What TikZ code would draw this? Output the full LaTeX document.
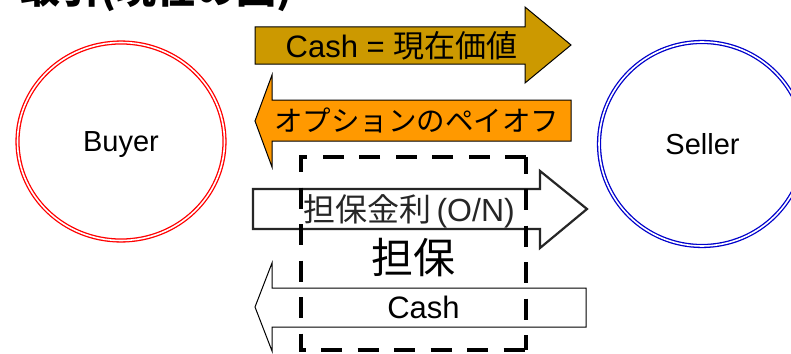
\documentclass[tikz,border=0pt]{standalone}
\usepackage{fontspec}
\setmainfont{Liberation Sans}
\newfontfamily\cjk{Noto Sans CJK JP}
\usetikzlibrary{shapes.geometric}
\definecolor{goldfill}{RGB}{204,153,0}
\definecolor{orangefill}{RGB}{255,153,0}
\definecolor{sellerblue}{RGB}{0,0,204}
\begin{document}
\begin{tikzpicture}[x=1pt,y=-1pt,
  party/.style={ellipse, draw, line width=1.3pt, double=white, double distance=1.6pt, inner sep=0pt},
  blockarrow/.style={draw=black, line width=1pt, line join=miter},
  lbl/.style={inner sep=0pt, text=black},
  collat/.style={draw=black, line width=4.5pt, dash pattern=on 21pt off 15.5pt},
]
\useasboundingbox (0,0) rectangle (791,353);
\fill[white] (0,0) rectangle (791,353);

% title (cut off at the top edge)
\node[lbl, anchor=base west, font=\cjk\bfseries\fontsize{40}{48}\selectfont] (title) at (20,4) {取引(現在の図)};

% parties
\node[party, draw=red, minimum width=207pt, minimum height=198pt] (buyer) at (121,141.5) {};
\node[party, draw=sellerblue, minimum width=206pt, minimum height=204pt] (seller) at (702,144) {};
\node[lbl, anchor=base, font=\fontsize{29}{35}\selectfont] (buyerlbl) at (121,151) {Buyer};
\node[lbl, anchor=base, font=\fontsize{29}{35}\selectfont] (sellerlbl) at (702.5,154.5) {Seller};

% block arrows
\draw[blockarrow, fill=goldfill] (255,27) -- (525,27) -- (525,7) -- (571,45) -- (525,83) -- (525,64) -- (255,64) -- cycle;
\draw[blockarrow, fill=orangefill] (571,100) -- (272,100) -- (272,75) -- (255,121) -- (272,167) -- (272,141) -- (571,141) -- cycle;
\draw[blockarrow, draw=black!85, line width=2.2pt, fill=white] (253,189) -- (540,189) -- (540,171) -- (587,209) -- (540,248) -- (540,229) -- (253,229) -- cycle;
\draw[blockarrow, fill=white] (586,288) -- (272,288) -- (272,263) -- (255,307) -- (272,351) -- (272,327) -- (586,327) -- cycle;

% collateral box
\draw[collat] (526,157) -- (301,157) -- (301,350) -- (526,350);
\draw[collat, dash phase=4.5pt] (526,157) -- (526,350);

% labels
\node[lbl, anchor=base, font=\fontsize{31}{37}\selectfont] (pv) at (401.5,57) {Cash = {\cjk 現在価値}};
\node[lbl, font=\cjk\fontsize{28.5}{34}\selectfont] (payoff) at (416.5,120.5) {オプションのペイオフ};
\node[lbl, text=black!85, font=\fontsize{32}{38}\selectfont] (rate) at (409,211) {{\cjk 担保金利}\,(O/N)};
\node[lbl, font=\cjk\fontsize{42}{50}\selectfont] (collatlbl) at (413,257.5) {担保};
\node[lbl, anchor=base, font=\fontsize{31}{37}\selectfont] (cash) at (423.5,318.5) {Cash};
\end{tikzpicture}
\end{document}
